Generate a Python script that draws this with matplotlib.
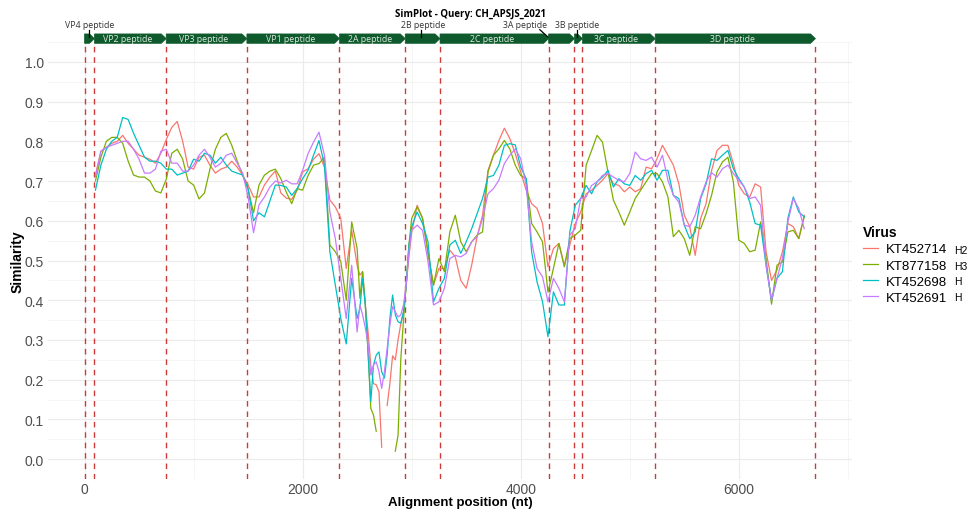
import numpy as np
import matplotlib
matplotlib.use("Agg")
import matplotlib.pyplot as plt
from matplotlib.patches import Polygon

plt.rcParams["font.family"] = ["Liberation Sans", "DejaVu Sans"]

# alignment positions of the similarity windows (finer step around the 2A/2B dip)
pos = np.r_[100:2500:50, 2500:3000:25, 3000:6601:50]

nan = np.nan
kt452714 = [0.715, 0.775, 0.785, 0.795, 0.80, 0.815, 0.795, 0.78, 0.765, 0.76,
            0.755, 0.745, 0.77, 0.805, 0.835, 0.85, 0.80, 0.735, 0.73, 0.76,
            0.765, 0.74, 0.72, 0.73, 0.735, 0.75, 0.735, 0.715, 0.69, 0.66,
            0.66, 0.69, 0.71, 0.725, 0.67, 0.657, 0.654, 0.677, 0.723, 0.731,
            0.755, 0.769, 0.735, 0.652, 0.635, 0.606, 0.48, 0.576,
            0.488, 0.463, 0.472, 0.388, 0.32, 0.237, 0.19, 0.187, 0.17, 0.03,
            nan, 0.135, 0.19, 0.26, 0.25, 0.30, 0.34, 0.37, 0.44, 0.51,
            0.57, 0.639, 0.606, 0.513, 0.438, 0.48, 0.48, 0.526, 0.509, 0.45,
            0.43, 0.488, 0.56, 0.614, 0.727, 0.765, 0.802, 0.833, 0.807, 0.769,
            0.723, 0.677, 0.643, 0.631, 0.593, 0.484, 0.53, 0.543, 0.488, 0.539,
            0.593, 0.622, 0.668, 0.677, 0.689, 0.702, 0.719, 0.693, 0.689, 0.673,
            0.685, 0.673, 0.681, 0.735, 0.731, 0.756, 0.79, 0.765, 0.74, 0.693,
            0.614, 0.585, 0.513, 0.606, 0.643, 0.726, 0.777, 0.79, 0.79, 0.744,
            0.689, 0.668, 0.66, 0.693, 0.685, 0.522, 0.45, 0.476, 0.522, 0.593,
            0.585, 0.555, 0.614]
kt877158 = [0.70, 0.76, 0.80, 0.81, 0.81, 0.795, 0.75, 0.715, 0.71, 0.71,
            0.70, 0.675, 0.67, 0.705, 0.77, 0.78, 0.755, 0.70, 0.69, 0.655,
            0.67, 0.73, 0.78, 0.81, 0.82, 0.79, 0.75, 0.715, 0.68, 0.62,
            0.69, 0.715, 0.725, 0.73, 0.706, 0.672, 0.643, 0.681, 0.677, 0.714,
            0.74, 0.744, 0.76, 0.539, 0.522, 0.497, 0.40, 0.597,
            0.53, 0.405, 0.472, 0.388, 0.27, 0.128, 0.111, 0.07, nan, nan,
            nan, nan, nan, nan, 0.02, 0.06, 0.25, 0.35, 0.44, 0.54,
            0.606, 0.635, 0.606, 0.522, 0.438, 0.505, 0.472, 0.572, 0.614, 0.547,
            0.522, 0.547, 0.564, 0.572, 0.723, 0.765, 0.781, 0.802, 0.781, 0.74,
            0.714, 0.706, 0.593, 0.572, 0.547, 0.42, 0.48, 0.543, 0.484, 0.555,
            0.564, 0.576, 0.74, 0.777, 0.815, 0.798, 0.723, 0.652, 0.622, 0.589,
            0.622, 0.656, 0.677, 0.698, 0.719, 0.719, 0.698, 0.66, 0.56, 0.576,
            0.555, 0.513, 0.585, 0.58, 0.618, 0.664, 0.723, 0.748, 0.76, 0.698,
            0.551, 0.543, 0.522, 0.526, 0.597, 0.505, 0.39, 0.488, 0.497, 0.572,
            0.576, 0.555, 0.61]
kt452698 = [0.677, 0.74, 0.78, 0.80, 0.81, 0.86, 0.855, 0.82, 0.79, 0.76,
            0.75, 0.75, 0.745, 0.73, 0.73, 0.715, 0.72, 0.725, 0.755, 0.75,
            0.77, 0.765, 0.745, 0.76, 0.74, 0.725, 0.72, 0.715, 0.68, 0.60,
            0.62, 0.61, 0.65, 0.69, 0.689, 0.685, 0.664, 0.681, 0.706, 0.727,
            0.765, 0.802, 0.74, 0.522, 0.438, 0.354, 0.29, 0.455,
            0.354, 0.379, 0.455, 0.388, 0.27, 0.145, 0.237, 0.262, 0.27, 0.22,
            0.204, 0.262, 0.354, 0.413, 0.363, 0.346, 0.342, 0.371, 0.438, 0.539,
            0.585, 0.622, 0.593, 0.547, 0.396, 0.43, 0.455, 0.539, 0.551, 0.518,
            0.547, 0.58, 0.618, 0.656, 0.71, 0.714, 0.74, 0.79, 0.794, 0.791,
            0.735, 0.706, 0.522, 0.446, 0.396, 0.308, 0.421, 0.388, 0.388, 0.572,
            0.639, 0.656, 0.689, 0.668, 0.698, 0.71, 0.727, 0.685, 0.706, 0.693,
            0.689, 0.714, 0.702, 0.719, 0.727, 0.702, 0.727, 0.727, 0.664, 0.656,
            0.589, 0.555, 0.572, 0.656, 0.693, 0.756, 0.752, 0.765, 0.777, 0.731,
            0.706, 0.685, 0.647, 0.593, 0.589, 0.488, 0.40, 0.455, 0.472, 0.606,
            0.66, 0.622, 0.61]
kt452691 = [0.71, 0.775, 0.785, 0.79, 0.795, 0.80, 0.80, 0.78, 0.755, 0.72,
            0.72, 0.73, 0.775, 0.78, 0.745, 0.745, 0.725, 0.725, 0.74, 0.765,
            0.78, 0.76, 0.735, 0.745, 0.765, 0.77, 0.745, 0.72, 0.66, 0.57,
            0.64, 0.66, 0.685, 0.70, 0.695, 0.702, 0.693, 0.693, 0.727, 0.769,
            0.798, 0.823, 0.765, 0.622, 0.555, 0.455, 0.354, 0.488,
            0.32, 0.388, 0.363, 0.33, 0.29, 0.212, 0.237, 0.245, 0.22, 0.178,
            0.22, 0.279, 0.337, 0.384, 0.371, 0.358, 0.363, 0.388, 0.438, 0.522,
            0.576, 0.589, 0.576, 0.497, 0.388, 0.396, 0.43, 0.505, 0.513, 0.509,
            0.518, 0.547, 0.56, 0.606, 0.668, 0.681, 0.702, 0.744, 0.765, 0.781,
            0.756, 0.689, 0.547, 0.48, 0.459, 0.396, 0.455, 0.43, 0.396, 0.564,
            0.58, 0.656, 0.66, 0.689, 0.698, 0.714, 0.719, 0.71, 0.702, 0.698,
            0.719, 0.773, 0.756, 0.752, 0.76, 0.735, 0.765, 0.702, 0.664, 0.647,
            0.589, 0.585, 0.614, 0.66, 0.698, 0.721, 0.71, 0.731, 0.74, 0.719,
            0.702, 0.685, 0.656, 0.66, 0.639, 0.488, 0.40, 0.455, 0.505, 0.597,
            0.656, 0.631, 0.58]

viruses = ["KT452714", "KT877158", "KT452698", "KT452691"]
suffixes = ["H2", "H3", "H", "H"]
series = [kt452714, kt877158, kt452698, kt452691]
colors = ["#F8766D", "#7CAE00", "#00BFC4", "#C77CFF"]

genes = ["VP4", "VP2", "VP3", "VP1", "2A", "2B", "2C", "3A", "3B", "3C", "3D"]
gene_start = [0, 91, 749, 1489, 2338, 2941, 3260, 4256, 4493, 4566, 5233]
gene_end = [91, 749, 1489, 2338, 2941, 3260, 4256, 4493, 4566, 5233, 6703]
label_inside = [False, True, True, True, True, False, True, False, False, True, True]
# label position (nt) for the small genes that are labelled above the track
outside_x = {"VP4": 45, "2B": 3105, "3A": 4040, "3B": 4515}
leader_x = {"VP4": (45, 45), "2B": (3090, 3090), "3A": (4175, 4250), "3B": (4520, 4520)}

fig = plt.figure(figsize=(9.71, 5.10), dpi=100)
ax = fig.add_axes([48 / 971, 30 / 510, 804 / 971, 437 / 510])

ax.set_xlim(-335, 7038)
ax.set_ylim(-0.05, 1.05)
ax.set_xticks([0, 2000, 4000, 6000])
ax.set_xticks([1000, 3000, 5000, 7000], minor=True)
ax.set_yticks(np.round(np.arange(0, 1.01, 0.1), 1))
ax.set_yticks(np.arange(0.05, 1.06, 0.1), minor=True)
ax.grid(which="major", color="#ebebeb", linewidth=0.8)
ax.grid(which="minor", color="#f2f2f2", linewidth=0.5)
ax.set_axisbelow(True)
for s in ax.spines.values():
    s.set_visible(False)
ax.tick_params(which="both", length=0, labelsize=10, labelcolor="#4d4d4d")
ax.tick_params(axis="y", pad=3)
ax.tick_params(axis="x", pad=2)
fig.text(460 / 971, 1 - 503.5 / 510, "Alignment position (nt)", fontsize=9.5,
         fontweight="bold", ha="center", va="center")
fig.text(18 / 971, 1 - 262 / 510, "Similarity", fontsize=10, fontweight="bold",
         ha="center", va="center", rotation=90)

for b in gene_start + [gene_end[-1]]:
    ax.axvline(b, color="#cc3a3a", linewidth=1.0, linestyle=(0, (4, 3.5)))

for name, ys, c in zip(viruses, series, colors):
    ax.plot(pos, ys, color=c, linewidth=0.9, label=name)

# gene track above the panel
yc, hh, head = 1.0585, 0.0118, 45
gfont = ["Open Sans", "DejaVu Sans"]
for g, x0, x1, inside in zip(genes, gene_start, gene_end, label_inside):
    hl = min(head, x1 - x0)
    pts = [(x0, yc - hh), (x1 - hl, yc - hh), (x1, yc), (x1 - hl, yc + hh), (x0, yc + hh)]
    ax.add_patch(Polygon(pts, closed=True, facecolor="#0e5a2c", edgecolor="#0e5a2c",
                         linewidth=0.5, clip_on=False))
    if inside:
        ax.text((x0 + x1 - hl) / 2, yc, g + " peptide", color="#dfeadf", fontsize=6.3,
                ha="center", va="center", family=gfont, clip_on=False)
    else:
        ax.text(outside_x[g], 1.093, g + " peptide", color="#333333", fontsize=6.3,
                ha="center", va="center", family=gfont, clip_on=False)
        lx0, lx1 = leader_x[g]
        ax.plot([lx0, lx1], [1.081, yc + 0.004], color="black", linewidth=0.9,
                clip_on=False)

fig.text(470 / 971, 1 - 14 / 510, "SimPlot - Query: CH_APSJS_2021", fontsize=7,
         fontweight="bold", ha="center", va="center", family=gfont)

leg = ax.legend(title="Virus", loc="upper left", bbox_to_anchor=(858 / 971, 1 - 221 / 510),
                bbox_transform=fig.transFigure, frameon=False, fontsize=9.5,
                title_fontsize=10, handlelength=1.1, handletextpad=0.6,
                labelspacing=0.3, borderaxespad=0)
leg.get_title().set_fontweight("bold")
leg._legend_box.align = "left"
for i, s in enumerate(suffixes):
    fig.text(954 / 971, 1 - (251 + 15.7 * i) / 510, s, fontsize=7.5, ha="left",
             va="center")

fig.savefig("out.png", dpi=100)
